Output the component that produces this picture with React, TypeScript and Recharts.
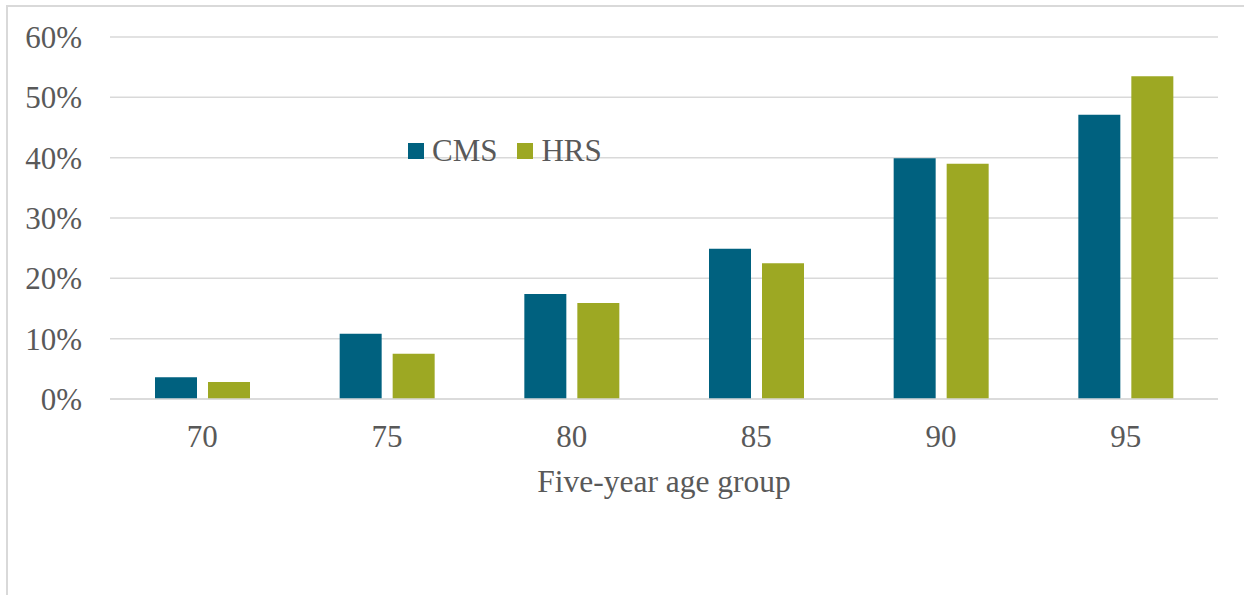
import { BarChart, Bar, XAxis, YAxis, CartesianGrid, Legend, Label } from 'recharts'

const ageGroups = ['70', '75', '80', '85', '90', '95']
const cmsShare = [3.6, 10.8, 17.4, 24.9, 39.9, 47.1]
const hrsShare = [2.8, 7.5, 15.9, 22.5, 39.0, 53.5]
const yTicks = [0, 10, 20, 30, 40, 50, 60]

const data = ageGroups.map((age, i) => ({ age, CMS: cmsShare[i], HRS: hrsShare[i] }))

const FONT = '"Liberation Serif", "Times New Roman", serif'
const TEXT = '#595959'
const GRID = '#d9d9d9'
const CMS_COLOR = '#00617f'
const HRS_COLOR = '#9da823'

// legend sits inside the plot, so it is drawn by hand and kept out of the layout
function LegendBox({ payload }: { payload?: { value: string; color: string }[] }) {
  if (!payload?.length) return null
  return (
    <div style={{ display: 'flex', alignItems: 'center', fontFamily: FONT, fontSize: 31, color: TEXT, lineHeight: 1 }}>
      {payload.map((p) => (
        <span key={p.value} style={{ display: 'flex', alignItems: 'center', marginRight: 20 }}>
          <span style={{ width: 16, height: 16, background: p.color, marginRight: 8, display: 'inline-block' }} />
          {p.value}
        </span>
      ))}
    </div>
  )
}

export default function App() {
  return (
    <div style={{ position: 'absolute', left: 0, top: 0, width: 1244, height: 595, overflow: 'hidden', background: '#fff' }}>
      <div style={{ position: 'absolute', left: 6, top: 5, width: 1300, height: 700, border: `2px solid ${GRID}` }} />
      <div style={{ position: 'absolute', left: 0, top: 0 }}>
        <BarChart width={1244} height={595} data={data} margin={{ top: 37, right: 26, bottom: 65, left: 10 }}
          barSize={42} barGap={11}>
          <CartesianGrid vertical={false} stroke={GRID} strokeWidth={1.5} />
          <XAxis dataKey="age" height={100} axisLine={{ stroke: GRID, strokeWidth: 1.5 }} tickLine={false}
            tickMargin={20} tick={{ fill: TEXT, fontSize: 31, fontFamily: FONT }}>
            <Label value="Five-year age group" position="insideBottom" offset={7}
              style={{ fill: TEXT, fontSize: 31.5, fontFamily: FONT }} />
          </XAxis>
          <YAxis width={100} domain={[0, 60]} ticks={yTicks} axisLine={false} tickLine={false} tickMargin={22}
            tickFormatter={(v: number) => `${v}%`} tick={{ fill: TEXT, fontSize: 31, fontFamily: FONT }} />
          <Legend content={<LegendBox />} wrapperStyle={{ left: 408, top: 135, width: 'auto' }} />
          <Bar dataKey="CMS" fill={CMS_COLOR} isAnimationActive={false} />
          <Bar dataKey="HRS" fill={HRS_COLOR} isAnimationActive={false} />
        </BarChart>
      </div>
    </div>
  )
}
